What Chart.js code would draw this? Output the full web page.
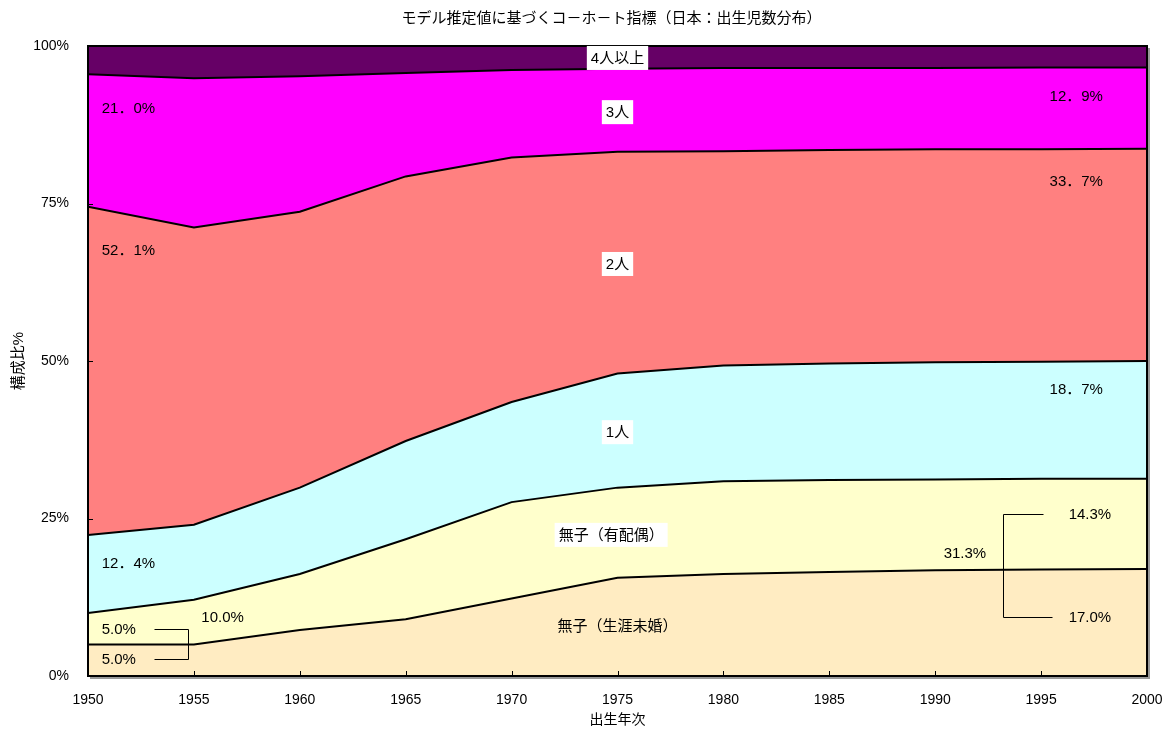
<!DOCTYPE html>
<html>
<head>
<meta charset="utf-8">
<script src="https://cdn.jsdelivr.net/npm/chart.js@4/dist/chart.umd.min.js"></script>
<style>
html,body{margin:0;padding:0;background:#fff;}
#wrap{width:1172px;height:731px;position:relative;}
</style>
</head>
<body>
<div id="wrap"><canvas id="c" width="1172" height="731"></canvas></div>
<script>
const years = [1950,1955,1960,1965,1970,1975,1980,1985,1990,1995,2000];
const seriesNames = ['無子（生涯未婚）','無子（有配偶）','1人','2人','3人','4人以上'];
const childlessUnmarried = [5.0,5.0,7.3,9.0,12.3,15.6,16.2,16.5,16.8,16.9,17.0];
const childlessMarried   = [5.0,7.1,8.9,12.7,15.3,14.3,14.7,14.6,14.4,14.4,14.3];
const oneChild           = [12.4,11.9,13.7,15.6,15.9,18.1,18.4,18.5,18.6,18.6,18.7];
const twoChildren        = [52.1,47.2,43.8,42.0,38.8,35.2,34.0,33.9,33.8,33.7,33.7];
const threeChildren      = [21.0,23.7,21.5,16.4,13.9,13.2,13.2,13.0,12.9,13.0,12.9];
const fourPlus           = [4.5,5.1,4.8,4.3,3.8,3.6,3.5,3.5,3.5,3.4,3.4];
const yTicks = [0,25,50,75,100];
const xTicks = [1950,1955,1960,1965,1970,1975,1980,1985,1990,1995,2000];
const colors = ['#FFECC2','#FFFFCC','#CCFFFF','#FF8080','#FF00FF','#660066'];

const titleText = 'モデル推定値に基づくコ－ホ－ト指標（日本：出生児数分布）';
const xTitle = '出生年次';
const yTitle = '構成比%';

// annotation labels (data coordinates)
const labels = [
  {x:1975, y:98.1, t:'4人以上', box:true, align:'center'},
  {x:1975, y:89.5, t:'3人', box:true, align:'center'},
  {x:1975, y:65.4, t:'2人', box:true, align:'center'},
  {x:1975, y:38.7, t:'1人', box:true, align:'center'},
  {x:1974.7, y:22.4, t:'無子（有配偶）', box:true, align:'center'},
  {x:1975, y:7.9, t:'無子（生涯未婚）', box:false, align:'center'},
  {x:1950.65, y:90.2, t:'21．0%', align:'left'},
  {x:1950.65, y:67.6, t:'52．1%', align:'left'},
  {x:1950.65, y:17.9, t:'12．4%', align:'left'},
  {x:1955.35, y:9.4, t:'10.0%', align:'left'},
  {x:1950.65, y:7.5, t:'5.0%', align:'left'},
  {x:1950.65, y:2.7, t:'5.0%', align:'left'},
  {x:1995.4, y:92.1, t:'12．9%', align:'left'},
  {x:1995.4, y:78.6, t:'33．7%', align:'left'},
  {x:1995.4, y:45.6, t:'18．7%', align:'left'},
  {x:1996.3, y:25.7, t:'14.3%', align:'left'},
  {x:1990.4, y:19.5, t:'31.3%', align:'left'},
  {x:1996.3, y:9.4, t:'17.0%', align:'left'}
];
const brackets = [
  [[1953.1,7.5],[1954.7,7.5],[1954.7,2.7],[1953.1,2.7]],
  [[1995.1,25.7],[1993.2,25.7],[1993.2,9.4],[1995.5,9.4]]
];

const FONT = '"Liberation Sans", "Noto Sans CJK JP", sans-serif';
const allSeries = [childlessUnmarried, childlessMarried, oneChild, twoChildren, threeChildren, fourPlus];

const datasets = allSeries.map((arr,i)=>({
  label: seriesNames[i],
  data: years.map((yr,j)=>({x:yr,y:arr[j]})),
  backgroundColor: colors[i],
  borderColor: '#000',
  borderWidth: 2,
  pointRadius: 0,
  tension: 0,
  fill: i===0 ? 'origin' : '-1'
}));

const decor = {
  id:'decor',
  afterDatasetsDraw(chart){
    const ctx = chart.ctx, a = chart.chartArea;
    const xs = chart.scales.x, ys = chart.scales.y;
    ctx.save();
    // shadow
    ctx.strokeStyle = '#999';
    ctx.lineWidth = 2;
    ctx.beginPath();
    ctx.moveTo(a.right+2, a.top+2); ctx.lineTo(a.right+2, a.bottom+2); ctx.lineTo(a.left+2, a.bottom+2);
    ctx.stroke();
    // frame
    ctx.strokeStyle = '#000';
    ctx.lineWidth = 2;
    ctx.strokeRect(a.left, a.top, a.right-a.left, a.bottom-a.top);
    // ticks inward
    ctx.lineWidth = 1;
    xTicks.forEach(v=>{
      const px = Math.round(xs.getPixelForValue(v))+0.5;
      ctx.beginPath(); ctx.moveTo(px, a.bottom); ctx.lineTo(px, a.bottom-5); ctx.stroke();
    });
    yTicks.forEach(v=>{
      const py = Math.round(ys.getPixelForValue(v))+0.5;
      ctx.beginPath(); ctx.moveTo(a.left, py); ctx.lineTo(a.left+5, py); ctx.stroke();
    });
    // brackets
    ctx.lineWidth = 1;
    brackets.forEach(b=>{
      ctx.beginPath();
      b.forEach((p,k)=>{
        const px = Math.round(xs.getPixelForValue(p[0]))+0.5;
        const py = Math.round(ys.getPixelForValue(p[1]))+0.5;
        if(k===0) ctx.moveTo(px,py); else ctx.lineTo(px,py);
      });
      ctx.stroke();
    });
    // labels
    ctx.textBaseline = 'middle';
    ctx.font = '15px ' + FONT;
    labels.forEach(l=>{
      const px = xs.getPixelForValue(l.x), py = ys.getPixelForValue(l.y);
      const w = ctx.measureText(l.t).width;
      let left = l.align==='center' ? px - w/2 : px;
      if(l.box){
        ctx.fillStyle = '#fff';
        ctx.fillRect(left-4, py-12, w+8, 24);
      }
      ctx.fillStyle = '#000';
      ctx.textAlign = 'left';
      ctx.fillText(l.t, left, py+1);
    });
    // titles
    ctx.textAlign = 'center';
    ctx.font = '15px ' + FONT;
    ctx.fillText(titleText, (a.left+a.right)/2 - 6, 19);
    ctx.font = '14px ' + FONT;
    ctx.fillText(xTitle, (a.left+a.right)/2, 720);
    ctx.translate(19, (a.top+a.bottom)/2);
    ctx.rotate(-Math.PI/2);
    ctx.font = '15px ' + FONT;
    ctx.fillText(yTitle, 0, 0);
    ctx.restore();
  }
};

new Chart(document.getElementById('c'), {
  type:'line',
  data:{datasets},
  options:{
    responsive:false,
    animation:false,
    layout:{padding:{left:0,right:25,top:46,bottom:0}},
    plugins:{legend:{display:false},title:{display:false},tooltip:{enabled:false},filler:{propagate:false}},
    scales:{
      x:{
        type:'linear', min:1950, max:2000,
        grid:{display:false}, border:{display:false},
        afterBuildTicks(s){ s.ticks = xTicks.map(v=>({value:v})); },
        afterFit(s){ s.height = 55; },
        ticks:{padding:8, color:'#000', font:{size:14, family:FONT}, maxRotation:0, autoSkip:false, callback:v=>String(v)}
      },
      y:{
        stacked:true, min:0, max:100,
        grid:{display:false}, border:{display:false},
        afterBuildTicks(s){ s.ticks = yTicks.map(v=>({value:v})); },
        afterFit(s){ s.width = 88; },
        ticks:{padding:11, color:'#000', font:{size:14, family:FONT}, callback:v=>v+'%'}
      }
    }
  },
  plugins:[decor]
});
</script>
</body>
</html>
